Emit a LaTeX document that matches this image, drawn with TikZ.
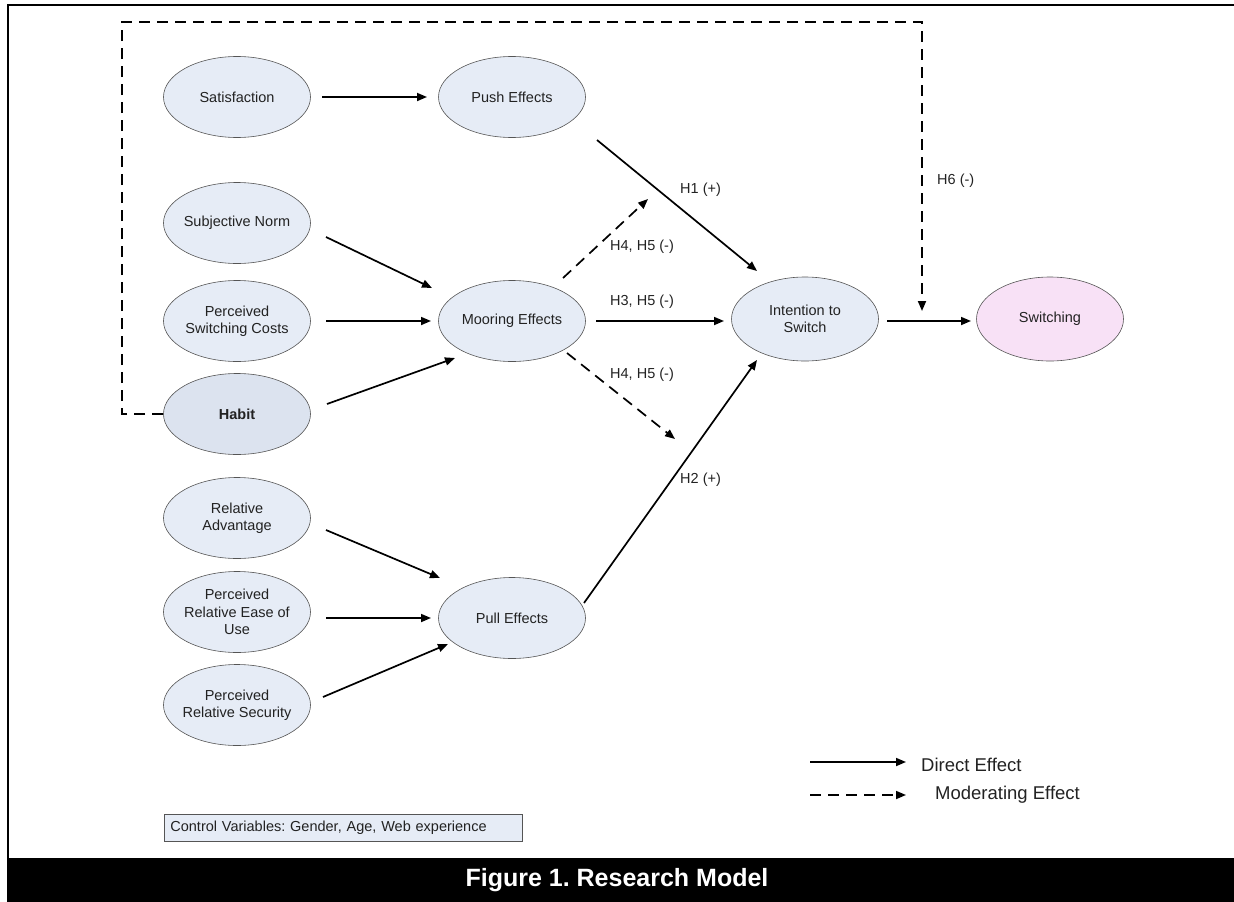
\documentclass[tikz,border=0pt]{standalone}
\usepackage{fontspec}
\setmainfont{Liberation Sans}
\usetikzlibrary{shapes.geometric,arrows.meta}
\frenchspacing
\definecolor{nodefill}{HTML}{E6ECF6}
\definecolor{habitfill}{HTML}{DCE3EF}
\definecolor{pinkfill}{HTML}{F8E1F6}
\definecolor{edgegray}{HTML}{555555}
\definecolor{txt}{HTML}{222222}
\tikzset{
  construct/.style={ellipse,draw=edgegray,line width=0.6pt,fill=nodefill,minimum width=147pt,minimum height=81pt,inner xsep=-22pt,inner ysep=-12pt,align=center,font=\fontsize{14.5}{17.5}\selectfont,text=txt},
  conn/.style={line width=1.7pt,-{Triangle[length=10pt,width=8pt]}},
  modconn/.style={conn,dash pattern=on 11pt off 7pt},
  hlabel/.style={font=\fontsize{14.5}{17}\selectfont,text=txt,inner sep=0pt},
}
\begin{document}
\begin{tikzpicture}[x=1pt,y=-1pt]
\useasboundingbox (0,0) rectangle (1234,902);
% frame
\draw[line width=2.4pt] (8,858) -- (8,5) -- (1240,5);
\fill (7,858) rectangle (1234,902);
\node[font=\bfseries\fontsize{25}{30}\selectfont,text=white] (cap) at (617,880) {Figure 1. Research Model};

% nodes
\node[construct] (sat) at (237,97) {Satisfaction};
\node[construct] (push) at (512,97) {Push Effects};
\node[construct] (sn) at (237,223) {Subjective Norm};
\node[construct] (psc) at (237,321) {Perceived\\Switching Costs};
\node[construct,fill=habitfill,font=\bfseries\fontsize{14.5}{17.5}\selectfont] (hab) at (237,414) {Habit};
\node[construct] (moor) at (512,321) {Mooring Effects};
\node[construct] (ra) at (237,518) {Relative\\Advantage};
\node[construct] (preu) at (237,612) {Perceived\\Relative Ease of\\Use};
\node[construct] (prs) at (237,705) {Perceived\\Relative Security};
\node[construct] (pull) at (512,618) {Pull Effects};
\node[construct,minimum height=84pt] (its) at (805,319) {Intention to\\Switch};
\node[construct,fill=pinkfill,minimum height=84pt] (sw) at (1050,319) {Switching};

% coordinates for connector ends
\coordinate (satE) at (322,97);
\coordinate (pushW) at (427,97);
\coordinate (snE) at (326,237);
\coordinate (moorNW) at (432,288);
\coordinate (pscE) at (326,321);
\coordinate (moorW) at (431,321);
\coordinate (habE) at (327,404);
\coordinate (moorSW) at (455,358);
\coordinate (raE) at (326,530);
\coordinate (pullNW) at (440,578);
\coordinate (preuE) at (326,618);
\coordinate (pullW) at (431,618);
\coordinate (prsE) at (323,697);
\coordinate (pullSW) at (448,644);
\coordinate (pushSE) at (597,140);
\coordinate (itsNW) at (757,271);
\coordinate (moorE) at (596,321);
\coordinate (itsW) at (724,321);
\coordinate (pullNE) at (584,603);
\coordinate (itsSW) at (757,360);
\coordinate (moorNE) at (563,278);
\coordinate (modUp) at (648,199);
\coordinate (moorSE) at (567,353);
\coordinate (modDown) at (675,439);
\coordinate (itsE) at (887,321);
\coordinate (swW) at (971,321);
\coordinate (habW) at (163,414);
\coordinate (h6tip) at (922,311);

% connectors
\draw[conn] (satE) -- (pushW);
\draw[conn] (snE) -- (moorNW);
\draw[conn] (pscE) -- (moorW);
\draw[conn] (habE) -- (moorSW);
\draw[conn] (raE) -- (pullNW);
\draw[conn] (preuE) -- (pullW);
\draw[conn] (prsE) -- (pullSW);
\draw[conn] (pushSE) -- (itsNW);
\draw[conn] (moorE) -- (itsW);
\draw[conn] (pullNE) -- (itsSW);
\draw[conn] (itsE) -- (swW);
\draw[modconn] (moorNE) -- (modUp);
\draw[modconn] (moorSE) -- (modDown);
\draw[modconn,line width=1.8pt] (habW) -| (122,22) -| (h6tip);

% labels
\node[hlabel,anchor=west] (lh1) at (680,190) {H1 (+)};
\node[hlabel,anchor=west] (lh4a) at (610,247) {H4, H5 (-)};
\node[hlabel,anchor=west] (lh3) at (610,302) {H3, H5 (-)};
\node[hlabel,anchor=west] (lh4b) at (610,375) {H4, H5 (-)};
\node[hlabel,anchor=west] (lh2) at (680,480) {H2 (+)};
\node[hlabel,anchor=west] (lh6) at (937,181) {H6 (-)};

% legend
\coordinate (lg1a) at (810,762);
\coordinate (lg1b) at (906,762);
\coordinate (lg2a) at (810,795);
\coordinate (lg2b) at (906,795);
\draw[conn] (lg1a) -- (lg1b);
\draw[modconn] (lg2a) -- (lg2b);
\node[hlabel,anchor=west,font=\fontsize{18.5}{21}\selectfont] (ld) at (921,765) {Direct Effect};
\node[hlabel,anchor=west,font=\fontsize{18.5}{21}\selectfont] (lm) at (935,795) {Moderating Effect};

% control variables
\node[draw=edgegray,line width=0.8pt,fill=nodefill,anchor=west,minimum width=356pt,minimum height=27pt,text width=346pt,inner xsep=6pt,font=\fontsize{14.5}{17}\selectfont,text=txt] (cv) at (164,827.5) {Control Variables: Gender, Age, Web experience};
\end{tikzpicture}
\end{document}
